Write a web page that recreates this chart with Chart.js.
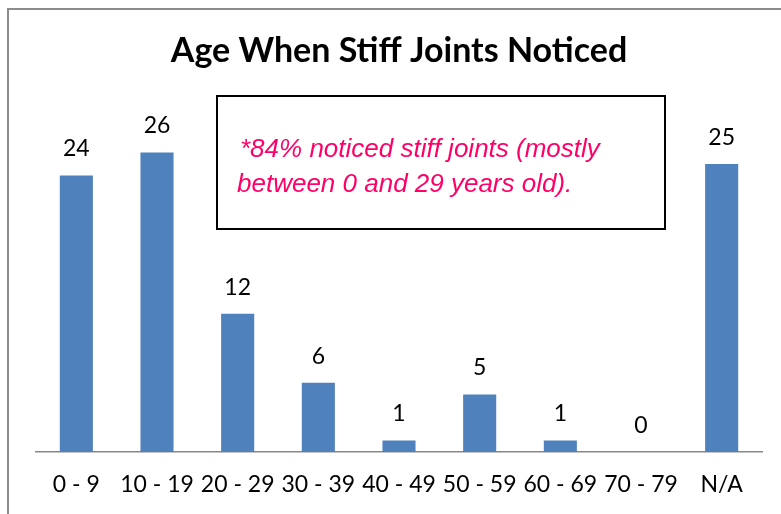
<!DOCTYPE html>
<html>
<head>
<meta charset="utf-8">
<script src="https://cdn.jsdelivr.net/npm/chart.js@4"></script>
<style>
  body { margin: 0; background: #fff; }
  canvas { display: block; }
</style>
</head>
<body>
<canvas id="chartCanvas" width="781" height="514"></canvas>
<script>
var AGE_GROUPS = ['0 - 9', '10 - 19', '20 - 29', '30 - 39', '40 - 49', '50 - 59', '60 - 69', '70 - 79', 'N/A']
var COUNTS = [24, 26, 12, 6, 1, 5, 1, 0, 25]
var NOTE_LINES = ['*84% noticed stiff joints (mostly', 'between 0 and 29 years old).']

var BAR_COLOR = '#4F81BD'
var LABEL_FONT = '23px Lato, Calibri, sans-serif'

// frame, value labels and the note box
var extras = {
  id: 'extras',
  afterDraw: function(chart) {
    var ctx = chart.ctx
    ctx.save()
    ctx.strokeStyle = '#8c8c8c'
    ctx.lineWidth = 2
    ctx.beginPath()
    ctx.moveTo(8, 520)
    ctx.lineTo(8, 9)
    ctx.lineTo(790, 9)
    ctx.stroke()

    var meta = chart.getDatasetMeta(0)
    ctx.fillStyle = '#000'
    ctx.font = LABEL_FONT
    ctx.textAlign = 'center'
    ctx.textBaseline = 'alphabetic'
    meta.data.forEach(function(bar, i) {
      ctx.fillText(String(COUNTS[i]), bar.x, bar.y - 19)
    })

    ctx.strokeStyle = '#000'
    ctx.lineWidth = 2
    ctx.strokeRect(217, 96, 448, 133)
    ctx.fillStyle = '#FF0066'
    ctx.font = 'italic 26px "Liberation Sans", Arial, sans-serif'
    ctx.textAlign = 'left'
    ctx.fillText(NOTE_LINES[0], 240, 157)
    ctx.fillText(NOTE_LINES[1], 237, 192)
    ctx.restore()
  }
}

new Chart(document.getElementById('chartCanvas'), {
  type: 'bar',
  data: {
    labels: AGE_GROUPS,
    datasets: [{
      data: COUNTS,
      backgroundColor: BAR_COLOR,
      borderWidth: 0,
      categoryPercentage: 1,
      barPercentage: 0.41
    }]
  },
  options: {
    responsive: false,
    animation: false,
    layout: { padding: { top: 31, left: 36, right: 19, bottom: 2 } },
    plugins: {
      legend: { display: false },
      tooltip: { enabled: false },
      title: {
        display: true,
        text: 'Age When Stiff Joints Noticed',
        color: '#000',
        font: { family: 'Lato, Calibri, sans-serif', size: 34, weight: 'bold', lineHeight: 1.2 },
        padding: { top: 0, bottom: 34.5 }
      }
    },
    scales: {
      x: {
        grid: { display: false, drawTicks: false },
        border: { display: true, color: '#888', width: 1.5 },
        ticks: { color: '#000', font: { family: 'Lato, Calibri, sans-serif', size: 23, lineHeight: 1 }, padding: 21, maxRotation: 0, autoSkip: false },
        afterFit: function(scale) { scale.height = 60 }
      },
      y: { display: false, min: 0, max: 30 }
    }
  },
  plugins: [extras]
})
</script>
</body>
</html>
